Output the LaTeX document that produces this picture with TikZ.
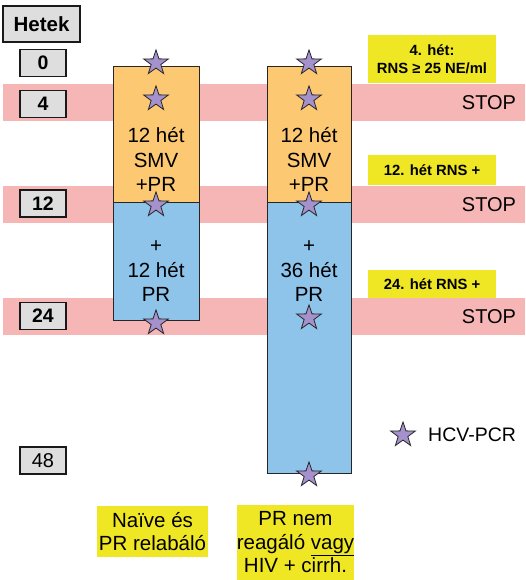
\documentclass[tikz,border=0pt]{standalone}
\usepackage{fontspec}
\setmainfont{Liberation Sans}
\usetikzlibrary{shapes.geometric}
\definecolor{bandpink}{HTML}{F7B6B6}
\definecolor{orangec}{HTML}{FDC872}
\definecolor{bluec}{HTML}{8EC3EA}
\definecolor{yellowc}{HTML}{EFE624}
\definecolor{boxgray}{HTML}{DEDEDE}
\definecolor{starc}{HTML}{A591CC}
\tikzset{
  band/.style={fill=bandpink},
  colbox/.style={draw=black!85, line width=0.9pt},
  hcvstar/.style={star, star points=5, star point ratio=2.55, minimum size=26pt, inner sep=0pt, draw=black!85, line width=0.8pt, fill=starc},
  weekbox/.style={draw=black!90, line width=1.2pt, fill=boxgray, minimum width=46pt, minimum height=27pt, inner sep=0pt, font=\bfseries\fontsize{19.5}{21}\selectfont},
  coltext/.style={align=center, inner sep=0pt, font=\fontsize{20.5}{24.5}\selectfont},
  stoptext/.style={inner sep=0pt, font=\fontsize{20}{24}\selectfont},
  notebox/.style={fill=yellowc, minimum width=128pt, inner sep=0pt, align=center, font=\bfseries\fontsize{14.8}{17.5}\selectfont},
  groupbox/.style={fill=yellowc, inner sep=0pt, align=center, font=\fontsize{20.5}{23.5}\selectfont}
}
\begin{document}
\begin{tikzpicture}[x=1pt,y=-1pt]
\useasboundingbox (0,0) rectangle (525,580);
% bands
\fill[band] (3,84) rectangle (525,121);
\fill[band] (3,186) rectangle (525,223);
\fill[band] (3,298) rectangle (525,335);
% columns
\draw[colbox, fill=orangec] (113,66) rectangle (199,202);
\draw[colbox, fill=bluec] (113,202) rectangle (199,320);
\draw[colbox, fill=orangec] (267,66) rectangle (351,202);
\draw[colbox, fill=bluec] (267,202) rectangle (351,473);
\node[coltext] (lo) at (156,159.5) {12 hét\\SMV\\+PR};
\node[coltext] (lb) at (156,271.5) {+\\12 hét\\PR};
\node[coltext] (ro) at (309,159.5) {12 hét\\SMV\\+PR};
\node[coltext] (rb) at (309,271.5) {+\\36 hét\\PR};
% week boxes
\node[weekbox, minimum width=77pt, minimum height=36pt, font=\bfseries\fontsize{20.5}{22}\selectfont] (hetek) at (41.5,24) {Hetek};
\node[weekbox] (w0) at (43,63) {0};
\node[weekbox] (w4) at (43,104) {4};
\node[weekbox] (w12) at (43,203.5) {12};
\node[weekbox] (w24) at (43,316) {24};
\node[weekbox, font=\fontsize{20}{21}\selectfont] (w48) at (43,460.5) {48};
% STOP
\node[stoptext] (s1) at (489,102.5) {STOP};
\node[stoptext] (s2) at (489,204.5) {STOP};
\node[stoptext] (s3) at (489,316.5) {STOP};
% notes
\node[notebox, minimum height=48pt] (n4) at (432,59) {4. hét:\\RNS ≥ 25 NE/ml};
\node[notebox, minimum height=30pt] (n12) at (432,170) {12. hét RNS +};
\node[notebox, minimum height=28pt] (n24) at (432,284) {24. hét RNS +};
% stars
\node[hcvstar] (a1) at (156,63) {};
\node[hcvstar] (a2) at (156,99) {};
\node[hcvstar] (a3) at (156,205) {};
\node[hcvstar] (a4) at (156,323) {};
\node[hcvstar] (b1) at (309,63) {};
\node[hcvstar] (b2) at (309,99) {};
\node[hcvstar] (b3) at (309,205) {};
\node[hcvstar] (b4) at (309,318) {};
\node[hcvstar] (b5) at (309,475) {};
% legend
\node[hcvstar] (leg) at (403,435) {};
\node[anchor=west, inner sep=0pt, font=\fontsize{19.5}{22}\selectfont] (legt) at (428,435) {HCV-PCR};
% groups
\node[groupbox, minimum width=111pt, minimum height=51pt] (g1) at (152.5,531.5) {Naïve és\\PR relabáló};
\node[groupbox, minimum width=109pt, minimum height=75pt] (g2) at (295.5,542.5) {PR nem\\reagáló \underline{vagy}\\HIV + cirrh.};
\end{tikzpicture}
\end{document}
